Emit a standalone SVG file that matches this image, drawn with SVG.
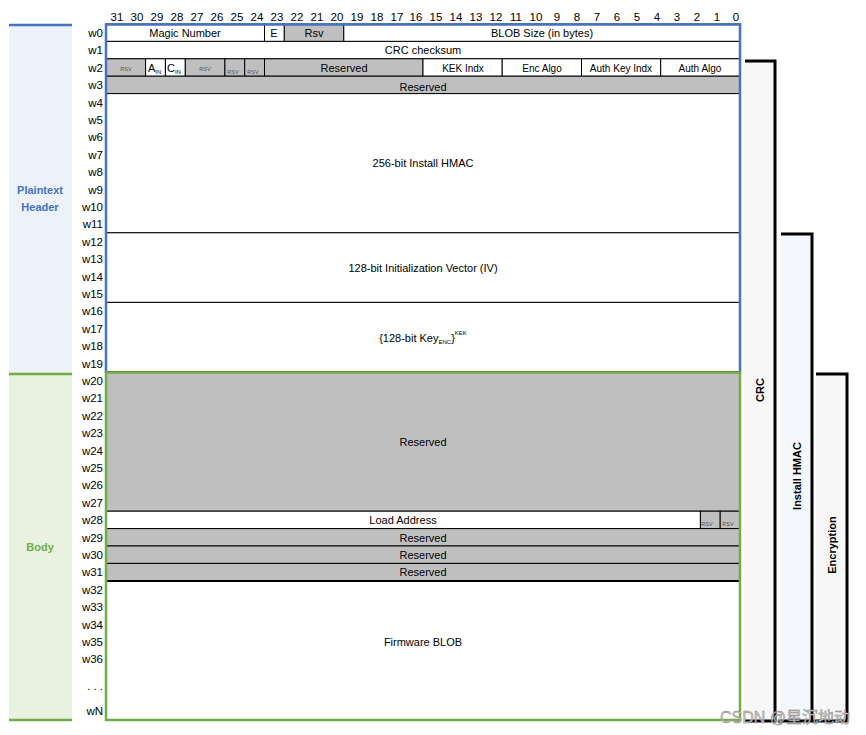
<svg xmlns="http://www.w3.org/2000/svg" width="866" height="735" viewBox="0 0 866 735">
<style>
text{font-family:"Liberation Sans",Arial,sans-serif;fill:#000}
.t{font-size:11px;text-anchor:middle}
.n{font-size:11.5px;text-anchor:middle}
.w{font-size:11.5px;text-anchor:end}
.tiny{font-size:5.5px;text-anchor:middle;fill:#555}
.sub{font-size:6px}
.g{fill:#BFBFBF;stroke:#000;stroke-width:1}
.wh{fill:#fff;stroke:#000;stroke-width:1}
.vl{font-size:11px;font-weight:bold;text-anchor:middle}
.br{fill:none;stroke:#000;stroke-width:3}
</style>
<rect width="866" height="735" fill="#fff"/>

<!-- left panels -->
<g id="plaintext-header">
<rect x="9" y="24" width="63" height="349" fill="#EDF1F9"/>
<line x1="9" y1="25" x2="72" y2="25" stroke="#4472C4" stroke-width="2.5"/>
<text x="40" y="194" style="font-size:11px;font-weight:bold;text-anchor:middle;fill:#4472C4">Plaintext</text>
<text x="40" y="211" style="font-size:11px;font-weight:bold;text-anchor:middle;fill:#4472C4">Header</text>
</g>
<g id="body">
<rect x="9" y="373" width="63" height="347" fill="#E9F2E1"/>
<line x1="9" y1="374" x2="72" y2="374" stroke="#70AD47" stroke-width="2.5"/>
<line x1="9" y1="720" x2="72" y2="720" stroke="#70AD47" stroke-width="2.5"/>
<text x="40" y="551" style="font-size:11px;font-weight:bold;text-anchor:middle;fill:#70AD47">Body</text>
</g>

<!-- bit numbers -->
<g id="bit-numbers">
<text class="n" x="117" y="21">31</text><text class="n" x="137" y="21">30</text><text class="n" x="157" y="21">29</text><text class="n" x="177" y="21">28</text>
<text class="n" x="197" y="21">27</text><text class="n" x="217" y="21">26</text><text class="n" x="237" y="21">25</text><text class="n" x="257" y="21">24</text>
<text class="n" x="277" y="21">23</text><text class="n" x="297" y="21">22</text><text class="n" x="317" y="21">21</text><text class="n" x="337" y="21">20</text>
<text class="n" x="357" y="21">19</text><text class="n" x="377" y="21">18</text><text class="n" x="397" y="21">17</text><text class="n" x="416" y="21">16</text>
<text class="n" x="436" y="21">15</text><text class="n" x="456" y="21">14</text><text class="n" x="476" y="21">13</text><text class="n" x="496" y="21">12</text>
<text class="n" x="516" y="21">11</text><text class="n" x="536" y="21">10</text><text class="n" x="557" y="21">9</text><text class="n" x="577" y="21">8</text>
<text class="n" x="597" y="21">7</text><text class="n" x="617" y="21">6</text><text class="n" x="637" y="21">5</text><text class="n" x="657" y="21">4</text>
<text class="n" x="677" y="21">3</text><text class="n" x="697" y="21">2</text><text class="n" x="717" y="21">1</text><text class="n" x="736" y="21">0</text>
</g>

<!-- word labels -->
<g id="word-labels">
<text class="w" x="103" y="37">w0</text><text class="w" x="103" y="54">w1</text><text class="w" x="103" y="72">w2</text><text class="w" x="103" y="89">w3</text>
<text class="w" x="103" y="107">w4</text><text class="w" x="103" y="124">w5</text><text class="w" x="103" y="141">w6</text><text class="w" x="103" y="159">w7</text>
<text class="w" x="103" y="176">w8</text><text class="w" x="103" y="194">w9</text><text class="w" x="103" y="211">w10</text><text class="w" x="103" y="228">w11</text>
<text class="w" x="103" y="246">w12</text><text class="w" x="103" y="263">w13</text><text class="w" x="103" y="281">w14</text><text class="w" x="103" y="298">w15</text>
<text class="w" x="103" y="315">w16</text><text class="w" x="103" y="333">w17</text><text class="w" x="103" y="350">w18</text><text class="w" x="103" y="368">w19</text>
<text class="w" x="103" y="385">w20</text><text class="w" x="103" y="402">w21</text><text class="w" x="103" y="420">w22</text><text class="w" x="103" y="437">w23</text>
<text class="w" x="103" y="455">w24</text><text class="w" x="103" y="472">w25</text><text class="w" x="103" y="489">w26</text><text class="w" x="103" y="507">w27</text>
<text class="w" x="103" y="524">w28</text><text class="w" x="103" y="542">w29</text><text class="w" x="103" y="559">w30</text><text class="w" x="103" y="576">w31</text>
<text class="w" x="103" y="594">w32</text><text class="w" x="103" y="611">w33</text><text class="w" x="103" y="629">w34</text><text class="w" x="103" y="646">w35</text>
<text class="w" x="103" y="663">w36</text><text class="w" x="103" y="690">. . .</text><text class="w" x="103" y="715">wN</text>
</g>

<!-- fields -->
<g id="w0">
<rect class="wh" x="106" y="24" width="158.5" height="17.4"/>
<text class="t" x="185" y="37">Magic Number</text>
<rect class="wh" x="264.5" y="24" width="19.8" height="17.4"/>
<text class="t" x="274" y="37">E</text>
<rect class="g" x="284.3" y="24" width="59.5" height="17.4"/>
<text class="t" x="314" y="37">Rsv</text>
<rect class="wh" x="343.8" y="24" width="396.2" height="17.4"/>
<text class="t" x="542" y="37">BLOB Size (in bytes)</text>
</g>
<g id="w1">
<rect class="wh" x="106" y="41.4" width="634" height="17.4"/>
<text class="t" x="423" y="54">CRC checksum</text>
</g>
<g id="w2">
<rect class="g" x="106" y="58.8" width="39.6" height="17.4"/>
<text class="tiny" x="126" y="71">RSV</text>
<rect class="wh" x="145.6" y="58.8" width="19.8" height="17.4"/>
<text x="148" y="72" style="font-size:11px">A<tspan class="sub" dy="2">IN</tspan></text>
<rect class="wh" x="165.4" y="58.8" width="19.9" height="17.4"/>
<text x="167" y="72" style="font-size:11px">C<tspan class="sub" dy="2">IN</tspan></text>
<rect class="g" x="185.3" y="58.8" width="39.6" height="17.4"/>
<text class="tiny" x="205" y="71">RSV</text>
<rect class="g" x="224.9" y="58.8" width="19.8" height="17.4"/>
<text class="tiny" x="233" y="74">RSV</text>
<rect class="g" x="244.7" y="58.8" width="19.8" height="17.4"/>
<text class="tiny" x="253" y="74">RSV</text>
<rect class="g" x="264.5" y="58.8" width="158.5" height="17.4"/>
<text class="t" x="344" y="72">Reserved</text>
<rect class="wh" x="423" y="58.8" width="79.2" height="17.4"/>
<text x="463" y="72" style="font-size:10px;text-anchor:middle">KEK Indx</text>
<rect class="wh" x="502.2" y="58.8" width="79.3" height="17.4"/>
<text x="542" y="72" style="font-size:10px;text-anchor:middle">Enc Algo</text>
<rect class="wh" x="581.5" y="58.8" width="79.2" height="17.4"/>
<text x="621" y="72" style="font-size:10px;text-anchor:middle">Auth Key Indx</text>
<rect class="wh" x="660.7" y="58.8" width="79.3" height="17.4"/>
<text x="700" y="72" style="font-size:10px;text-anchor:middle">Auth Algo</text>
</g>
<g id="w3">
<rect class="g" x="106" y="76.2" width="634" height="17.4"/>
<text class="t" x="423" y="91">Reserved</text>
</g>
<g id="w4-w11">
<rect class="wh" x="106" y="93.6" width="634" height="139.2"/>
<text class="t" x="423" y="167">256-bit Install HMAC</text>
</g>
<g id="w12-w15">
<rect class="wh" x="106" y="232.8" width="634" height="69.6"/>
<text class="t" x="423" y="272">128-bit Initialization Vector (IV)</text>
</g>
<g id="w16-w19">
<rect class="wh" x="106" y="302.4" width="634" height="69.6"/>
<text x="423" y="342" style="font-size:11px;text-anchor:middle">{128-bit Key<tspan class="sub" dy="2">ENC</tspan><tspan dy="-2">}</tspan><tspan class="sub" dy="-7">KEK</tspan></text>
</g>
<g id="w20-w27">
<rect class="g" x="106" y="372" width="634" height="139.2"/>
<text class="t" x="423" y="446">Reserved</text>
</g>
<g id="w28">
<rect class="wh" x="106" y="511.2" width="594.4" height="17.4"/>
<text class="t" x="403" y="524">Load Address</text>
<rect class="g" x="700.4" y="511.2" width="19.8" height="17.4"/>
<text class="tiny" x="707" y="526">RSV</text>
<rect class="g" x="720.2" y="511.2" width="19.8" height="17.4"/>
<text class="tiny" x="728" y="526">RSV</text>
</g>
<g id="w29">
<rect class="g" x="106" y="528.6" width="634" height="17.4" stroke-width="1.5"/>
<text class="t" x="423" y="542">Reserved</text>
</g>
<g id="w30">
<rect class="g" x="106" y="546" width="634" height="17.4" stroke-width="1.5"/>
<text class="t" x="423" y="559">Reserved</text>
</g>
<g id="w31">
<rect class="g" x="106" y="563.4" width="634" height="17.4" stroke-width="1.5"/>
<text class="t" x="423" y="576">Reserved</text>
</g>
<g id="firmware">
<rect class="wh" x="106" y="580.8" width="634" height="139.2"/>
<line x1="106" y1="581" x2="740" y2="581" stroke="#000" stroke-width="2"/>
<text class="t" x="423" y="646">Firmware BLOB</text>
</g>

<!-- frames -->
<g id="frames" fill="none">
<path d="M106 373 V24.5 H740 V373" stroke="#4472C4" stroke-width="2.5"/>
<path d="M106 372.5 H740 V720 H106 Z" stroke="#70AD47" stroke-width="2.5"/>
</g>

<!-- brackets -->
<g id="crc">
<rect x="744" y="61" width="31" height="659" fill="#F7F7F7"/>
<path class="br" d="M745 61 H775 V721 H745"/>
<text class="vl" transform="translate(764,390) rotate(-90)">CRC</text>
</g>
<g id="install-hmac">
<rect x="781" y="234" width="31" height="486" fill="#F4F7FC"/>
<path class="br" d="M781 234 H812 V721 H778"/>
<text class="vl" transform="translate(801,476) rotate(-90)">Install HMAC</text>
</g>
<g id="encryption">
<rect x="816" y="374" width="31" height="346" fill="#F7F7F7"/>
<path class="br" d="M816 374 H847 V721 H812"/>
<text class="vl" transform="translate(836,545) rotate(-90)">Encryption</text>
</g>

<text x="850" y="723" style="font-family:'Liberation Sans','Noto Sans CJK SC',sans-serif;font-size:16px;text-anchor:end;fill:#C8C8C8;stroke:#808080;stroke-width:0.4">CSDN @星沉地动</text>
</svg>
